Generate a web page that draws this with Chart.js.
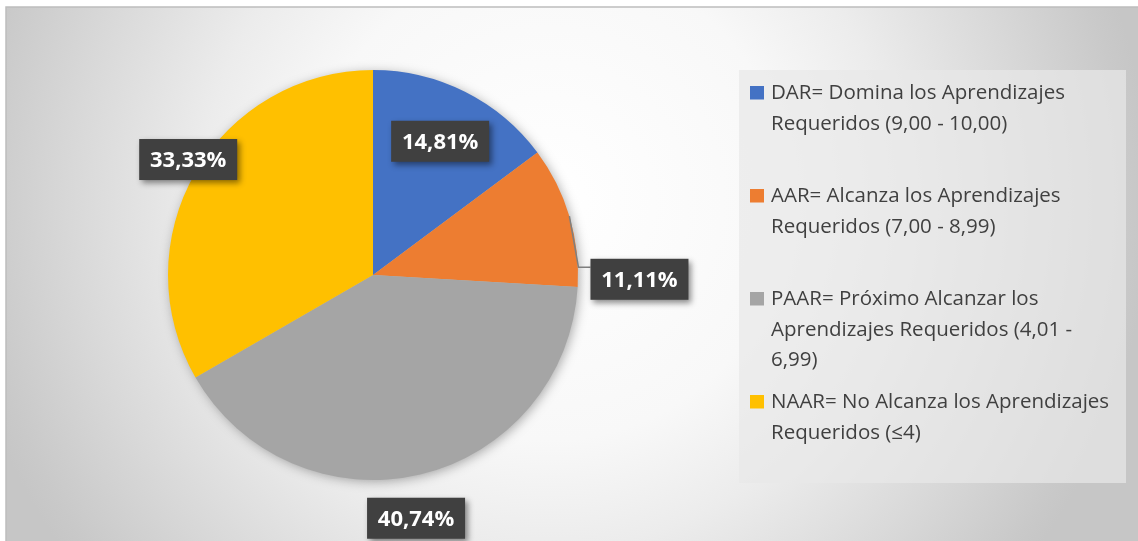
<!DOCTYPE html>
<html>
<head>
<meta charset="utf-8">
<title>Niveles de logro</title>
<script src="https://cdn.jsdelivr.net/npm/chart.js@4.4.0/dist/chart.umd.min.js"></script>
<style>
  html, body { margin: 0; padding: 0; background: #fff; }
  #wrap { width: 1138px; height: 541px; }
</style>
</head>
<body>
<div id="wrap"><canvas id="chart" width="1138" height="541"></canvas></div>
<script>
// categories (wrapped the way the legend shows them)
const categories = [
  ["DAR= Domina los Aprendizajes", "Requeridos (9,00 - 10,00)"],
  ["AAR= Alcanza los Aprendizajes", "Requeridos (7,00 - 8,99)"],
  ["PAAR= Próximo Alcanzar los", "Aprendizajes Requeridos (4,01 -", "6,99)"],
  ["NAAR= No Alcanza los Aprendizajes", "Requeridos (≤4)"]
];
const percentages = [14.81, 11.11, 40.74, 33.33];
const sliceColors = ["#4472C4", "#ED7D31", "#A5A5A5", "#FFC000"];

const fmt = (v) => v.toFixed(2).replace(".", ",") + "%";

// chart background: radial grey gradient with a thin border
const backgroundPlugin = {
  id: "bg",
  beforeDraw(chart) {
    const ctx = chart.ctx;
    ctx.save();
    ctx.fillStyle = "#ffffff";
    ctx.fillRect(0, 0, chart.width, chart.height);
    const g = ctx.createRadialGradient(550, 200, 0, 550, 200, 600);
    g.addColorStop(0, "#ffffff");
    g.addColorStop(0.4, "#f8f8f8");
    g.addColorStop(0.58, "#ececec");
    g.addColorStop(0.8, "#d8d8d8");
    g.addColorStop(0.96, "#c9c9c9");
    g.addColorStop(1, "#c6c6c6");
    ctx.fillStyle = g;
    ctx.fillRect(6, 7, chart.width, chart.height);
    ctx.strokeStyle = "#bdbdbd";
    ctx.lineWidth = 1.5;
    ctx.strokeRect(6, 7, chart.width + 10, chart.height + 10);
    ctx.restore();
  }
};

// soft shadow under the whole pie
const pieShadow = {
  id: "pieShadow",
  beforeDatasetsDraw(chart) {
    const arc = chart.getDatasetMeta(0).data[0];
    if (!arc) return;
    const ctx = chart.ctx;
    ctx.save();
    ctx.shadowColor = "rgba(0,0,0,0.35)";
    ctx.shadowBlur = 12;
    ctx.shadowOffsetX = 2;
    ctx.shadowOffsetY = 2;
    ctx.fillStyle = "#bbbbbb";
    ctx.beginPath();
    ctx.arc(arc.x, arc.y, arc.outerRadius - 1, 0, Math.PI * 2);
    ctx.fill();
    ctx.restore();
  }
};

// dark value boxes
const valueLabels = {
  id: "valueLabels",
  afterDatasetsDraw(chart, args, opts) {
    const ctx = chart.ctx;
    const meta = chart.getDatasetMeta(0);
    const values = chart.data.datasets[0].data;
    meta.data.forEach((arc, i) => {
      const mid = (arc.startAngle + arc.endAngle) / 2;
      const pos = opts.place[i];
      const a = mid + pos.da * Math.PI / 180;
      const R = arc.outerRadius;
      const cx = arc.x + Math.cos(a) * R * pos.r;
      const cy = arc.y + Math.sin(a) * R * pos.r;
      const w = opts.boxW, h = opts.boxH;
      const left = cx - w / 2, top = cy - h / 2;

      if (pos.leader) {
        const ex = arc.x + Math.cos(mid) * R;
        const ey = arc.y + Math.sin(mid) * R;
        ctx.save();
        ctx.strokeStyle = "#7f7f7f";
        ctx.lineWidth = 1.5;
        ctx.beginPath();
        ctx.moveTo(ex, ey);
        ctx.lineTo(left - 12, cy - 12);
        ctx.lineTo(left, cy - 12);
        ctx.stroke();
        ctx.restore();
      }

      ctx.save();
      ctx.shadowColor = "rgba(0,0,0,0.45)";
      ctx.shadowBlur = 6;
      ctx.shadowOffsetX = 3;
      ctx.shadowOffsetY = 3;
      ctx.fillStyle = "#404040";
      ctx.fillRect(left, top, w, h);
      ctx.restore();

      ctx.save();
      ctx.fillStyle = "#ffffff";
      ctx.font = "bold 22px 'Open Sans'";
      ctx.textAlign = "center";
      ctx.textBaseline = "middle";
      ctx.fillText(fmt(values[i]), cx, cy + 1);
      ctx.restore();
    });
  }
};

// legend panel on the right
const sideLegend = {
  id: "sideLegend",
  afterDraw(chart, args, opts) {
    const ctx = chart.ctx;
    const colors = chart.data.datasets[0].backgroundColor;
    ctx.save();
    ctx.fillStyle = "rgba(232,232,232,0.7)";
    ctx.fillRect(opts.x, opts.y, opts.w, opts.h);
    ctx.font = "20.5px 'Open Sans'";
    ctx.textBaseline = "alphabetic";
    chart.data.labels.forEach((lines, i) => {
      const base = opts.firstBaseline + i * opts.itemGap;
      ctx.fillStyle = colors[i];
      ctx.fillRect(opts.markerX, base - 13, 14, 13.5);
      ctx.fillStyle = "#404040";
      lines.forEach((t, j) => ctx.fillText(t, opts.textX, base + j * opts.lineHeight));
    });
    ctx.restore();
  }
};

new Chart(document.getElementById("chart"), {
  type: "pie",
  data: {
    labels: categories,
    datasets: [{
      data: percentages,
      backgroundColor: sliceColors,
      borderWidth: 0
    }]
  },
  options: {
    responsive: false,
    animation: false,
    events: [],
    layout: { padding: { left: 168, right: 560, top: 70, bottom: 61 } },
    plugins: {
      legend: { display: false },
      tooltip: { enabled: false },
      valueLabels: {
        boxW: 98,
        boxH: 41,
        place: [
          { r: 0.73, da: 0 },
          { r: 1.30, da: 17.6, leader: true },
          { r: 1.205, da: 3.3 },
          { r: 1.063, da: 2 }
        ]
      },
      sideLegend: {
        x: 739, y: 70, w: 387, h: 413,
        markerX: 750, textX: 771,
        firstBaseline: 99, itemGap: 103, lineHeight: 30.5
      }
    }
  },
  plugins: [backgroundPlugin, pieShadow, valueLabels, sideLegend]
});
</script>
</body>
</html>
